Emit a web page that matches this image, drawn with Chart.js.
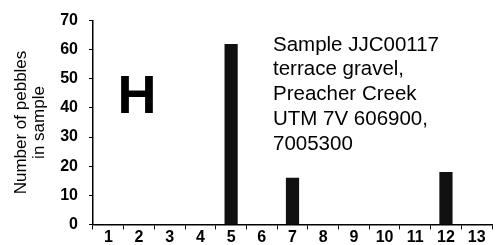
<!DOCTYPE html>
<html>
<head>
<meta charset="utf-8">
<script src="https://cdn.jsdelivr.net/npm/chart.js@4/dist/chart.umd.min.js"></script>
<style>
  html, body { margin: 0; padding: 0; background: #fff; }
  #wrap { position: relative; width: 501px; height: 245px; }
</style>
</head>
<body>
<div id="wrap"><canvas id="c"></canvas></div>
<script>
const categories = ['1','2','3','4','5','6','7','8','9','10','11','12','13'];
const pebbleCounts = [0, 0, 0, 0, 62, 0, 16, 0, 0, 0, 0, 18, 0];
const yTicks = [0, 10, 20, 30, 40, 50, 60, 70];
const yTitleLines = ['Number of pebbles', 'in sample'];
const panelLetter = 'H';
const annotationLines = ['Sample JJC00117', 'terrace gravel,', 'Preacher Creek', 'UTM 7V 606900,', '7005300'];

const FONT = '"Liberation Sans", Arial, Helvetica, sans-serif';

const textPlugin = {
  id: 'panelText',
  afterDraw(chart) {
    const ctx = chart.ctx;
    const a = chart.chartArea;
    ctx.save();
    ctx.fillStyle = '#000';
    // panel letter
    ctx.font = 'bold 54px ' + FONT;
    ctx.textAlign = 'center';
    ctx.textBaseline = 'alphabetic';
    ctx.fillText(panelLetter, a.left + 44, a.top + 92);
    // annotation
    ctx.font = '20.5px ' + FONT;
    ctx.textAlign = 'left';
    const lh = 24.75;
    annotationLines.forEach((t, i) => {
      ctx.fillText(t, a.left + 180, a.top + 30 + i * lh);
    });
    ctx.restore();
  }
};

new Chart(document.getElementById('c'), {
  type: 'bar',
  data: {
    labels: categories,
    datasets: [{
      data: pebbleCounts,
      backgroundColor: '#111111',
      borderWidth: 0,
      barPercentage: 0.43,
      categoryPercentage: 1.0
    }]
  },
  options: {
    responsive: true,
    maintainAspectRatio: false,
    animation: false,
    events: [],
    layout: { padding: { top: 19, right: 9, bottom: 0, left: 0 } },
    plugins: { legend: { display: false }, tooltip: { enabled: false } },
    scales: {
      x: {
        offset: true,
        grid: {
          display: true,
          offset: true,
          drawOnChartArea: false,
          drawTicks: true,
          tickLength: 5,
          color: '#000',
          lineWidth: 1
        },
        border: { display: true, color: '#000', width: 1.5 },
        ticks: {
          autoSkip: false,
          maxRotation: 0,
          padding: 0,
          color: '#000',
          font: { family: FONT, size: 16, weight: 'bold', lineHeight: 1 }
        },
        afterFit(scale) { scale.height = 20; }
      },
      y: {
        min: 0,
        max: 70,
        afterBuildTicks(scale) { scale.ticks = yTicks.map(v => ({ value: v })); },
        grid: {
          display: true,
          drawOnChartArea: false,
          drawTicks: true,
          tickLength: 4,
          color: '#000',
          lineWidth: 1
        },
        border: { display: true, color: '#000', width: 1.5 },
        ticks: {
          padding: 11,
          color: '#000',
          font: { family: FONT, size: 16, weight: 'bold' }
        },
        title: {
          display: true,
          text: yTitleLines,
          color: '#000',
          font: { family: FONT, size: 17, lineHeight: '18px' },
          padding: { top: 12, bottom: 0 }
        },
        afterFit(scale) { scale.width = 93; }
      }
    }
  },
  plugins: [textPlugin]
});
</script>
</body>
</html>
